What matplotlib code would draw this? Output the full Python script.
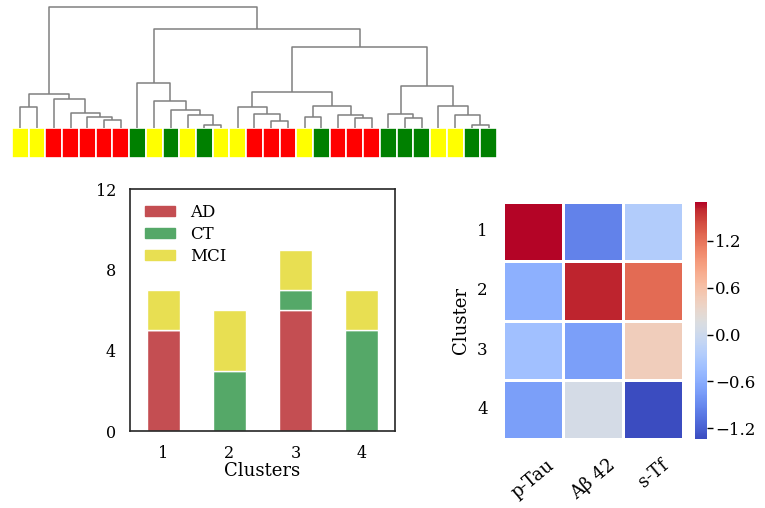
import numpy as np
import matplotlib
matplotlib.use("Agg")
import matplotlib.pyplot as plt
from matplotlib.patches import Patch
import seaborn as sns

plt.rcParams['font.family'] = ['DejaVu Serif']

# ── data ──────────────────────────────────────────────────────────────────────

# leaf labels in dendrogram order
leaf_groups = ["MCI", "MCI", "AD", "AD", "AD", "AD", "AD", "CT", "MCI", "CT",
               "MCI", "CT", "MCI", "MCI", "AD", "AD", "AD", "MCI", "CT", "AD",
               "AD", "AD", "CT", "CT", "CT", "MCI", "MCI", "CT", "CT"]

# merges (left, right, height), ids >= 29 are earlier merges (scipy-like)
merges = [
    (0, 1, 21), (5, 6, 8), (4, 30, 11), (3, 31, 15), (2, 32, 29),
    (29, 33, 34), (11, 12, 3), (10, 35, 13), (9, 36, 18), (8, 37, 27),
    (7, 38, 45), (15, 16, 7), (14, 40, 14), (13, 41, 21), (17, 18, 11),
    (20, 21, 10), (19, 44, 13), (43, 45, 22), (42, 46, 36), (23, 24, 10),
    (22, 48, 14), (27, 28, 3), (26, 50, 13), (25, 51, 22), (49, 52, 42),
    (47, 53, 81), (39, 54, 99), (34, 55, 121),
]

clusters = ["1", "2", "3", "4"]
ad = [5, 0, 6, 0]
ct = [0, 3, 1, 5]
mci = [2, 3, 2, 2]

markers = ["p-Tau", "Aβ 42", "s-Tf"]
heat = np.array([
    [1.70, -0.95, -0.25],
    [-0.58, 1.61, 1.26],
    [-0.41, -0.73, 0.45],
    [-0.73, 0.08, -1.34],
])

strip_colors = {"AD": "#ff0000", "CT": "#008000", "MCI": "#ffff00"}
bar_colors = {"AD": "#c44e52", "CT": "#55a868", "MCI": "#e8df52"}

# ── figure ────────────────────────────────────────────────────────────────────

fig = plt.figure(figsize=(7.65, 5.08), dpi=100)

# dendrogram
ax_d = fig.add_axes([12/765, 1 - 128/508, 485/765, 121/508])
n = len(leaf_groups)
pos = {i: i + 0.5 for i in range(n)}
hgt = {i: 0.0 for i in range(n)}
for k, (a, b, h) in enumerate(merges):
    xa, xb = pos[a], pos[b]
    ax_d.plot([xa, xa, xb, xb], [hgt[a], h, h, hgt[b]],
              color="#808080", lw=1.1, solid_capstyle="butt", clip_on=False)
    pos[n + k] = (xa + xb) / 2
    hgt[n + k] = h
ax_d.set_xlim(0, n)
ax_d.set_ylim(0, 121)
ax_d.axis("off")

# colour strip under the leaves
ax_s = fig.add_axes([12/765, 1 - 158/508, 485/765, 30/508])
ax_s.bar(np.arange(n) + 0.5, np.ones(n), width=1.0,
         color=[strip_colors[g] for g in leaf_groups],
         edgecolor="white", linewidth=1.2)
ax_s.set_xlim(0, n)
ax_s.set_ylim(0, 1)
ax_s.axis("off")

# stacked bars
ax_b = fig.add_axes([130/765, 1 - 431/508, 265/765, 242/508])
x = np.arange(len(clusters))
ax_b.bar(x, ad, width=0.5, color=bar_colors["AD"], edgecolor="white", lw=1, label="AD")
ax_b.bar(x, ct, width=0.5, bottom=ad, color=bar_colors["CT"], edgecolor="white", lw=1, label="CT")
ax_b.bar(x, mci, width=0.5, bottom=np.add(ad, ct), color=bar_colors["MCI"],
         edgecolor="white", lw=1, label="MCI")
ax_b.set_xlim(-0.5, 3.5)
ax_b.set_ylim(0, 12)
ax_b.set_yticks([0, 4, 8, 12])
ax_b.set_xticks(x)
ax_b.set_xticklabels(clusters)
ax_b.tick_params(length=0, pad=10, labelsize=11.5)
ax_b.set_xlabel("Clusters", fontsize=13, labelpad=0)
for sp in ax_b.spines.values():
    sp.set_color("#262626")
    sp.set_linewidth(1.2)
handles = [Patch(color=bar_colors[k], label=k) for k in ["AD", "CT", "MCI"]]
ax_b.legend(handles=handles, loc="upper left", frameon=False, fontsize=12,
            labelspacing=0.3, handleheight=0.55, handlelength=1.8,
            handletextpad=0.9)

# heatmap
ax_h = fig.add_axes([503/765, 1 - 439/508, 180/765, 237/508])
ax_c = fig.add_axes([695/765, 1 - 439/508, 12/765, 237/508])
sns.heatmap(heat, cmap="coolwarm", linewidths=0.8, linecolor="white",
            ax=ax_h, cbar_ax=ax_c, xticklabels=markers, yticklabels=clusters)
ax_h.set_ylabel("Cluster", fontsize=13, labelpad=5)
ax_h.tick_params(length=0, labelsize=12)
ax_h.tick_params(axis="y", pad=11, labelrotation=0)
ax_h.tick_params(axis="x", pad=12, labelsize=13)
for t in ax_h.get_xticklabels():
    t.set_rotation(40)
    t.set_ha("center")
ax_c.set_yticks([-1.2, -0.6, 0.0, 0.6, 1.2])
ax_c.set_yticklabels(["\u22121.2", "\u22120.6", "0.0", "0.6", "1.2"])
ax_c.tick_params(labelsize=12, length=4, width=1, pad=2)

fig.savefig("out.png", dpi=100)
